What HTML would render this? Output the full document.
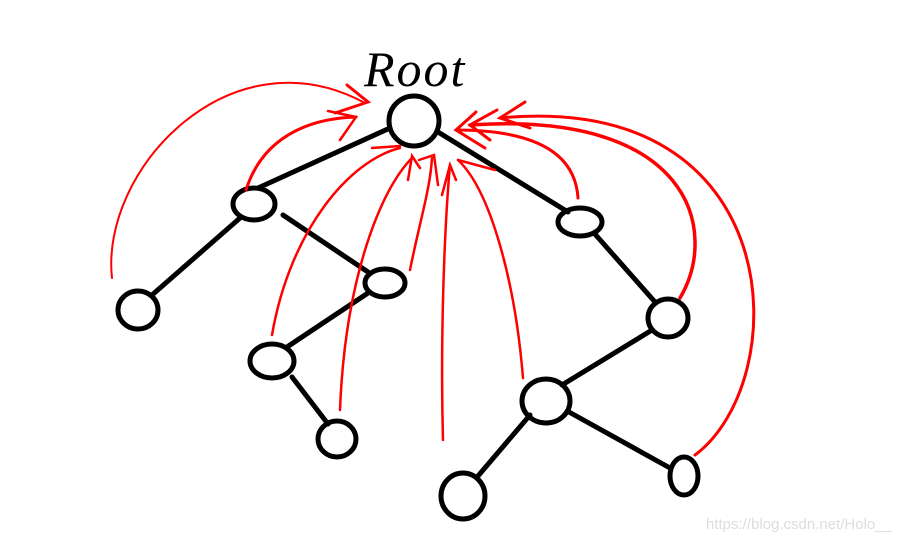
<!DOCTYPE html>
<html><head><meta charset="utf-8"><style>
html,body{margin:0;padding:0;background:#fff;width:912px;height:540px;overflow:hidden}
svg{display:block}
</style></head><body>
<svg width="912" height="540" viewBox="0 0 912 540" xmlns="http://www.w3.org/2000/svg">
<rect width="912" height="540" fill="#fff"/>
<text x="364" y="86" font-family="Liberation Serif, serif" font-style="italic" font-size="50" fill="#000" letter-spacing="2">Root</text>
<g stroke="#000" stroke-width="5" fill="none" stroke-linecap="round">
<line x1="390" y1="128" x2="258" y2="188"/>
<line x1="438" y1="132" x2="568" y2="212"/>
<line x1="240" y1="218" x2="152" y2="295"/>
<line x1="283" y1="215" x2="368" y2="272"/>
<line x1="368" y1="293" x2="287" y2="347"/>
<line x1="292" y1="377" x2="328" y2="424"/>
<line x1="594" y1="233" x2="655" y2="302"/>
<line x1="652" y1="330" x2="562" y2="385"/>
<line x1="530" y1="415" x2="478" y2="476"/>
<line x1="569" y1="412" x2="670" y2="468"/>
<circle cx="414" cy="121" r="25"/>
<ellipse cx="254" cy="204" rx="21" ry="16"/>
<ellipse cx="138" cy="310" rx="20" ry="19"/>
<ellipse cx="385" cy="283" rx="20" ry="14"/>
<ellipse cx="272" cy="361" rx="22" ry="17"/>
<ellipse cx="337" cy="439" rx="19" ry="18"/>
<ellipse cx="580" cy="222" rx="22" ry="14"/>
<ellipse cx="668" cy="318" rx="20" ry="19"/>
<ellipse cx="546" cy="401" rx="24" ry="22"/>
<ellipse cx="463" cy="496" rx="22" ry="23"/>
<ellipse cx="684" cy="476" rx="14" ry="19"/>
</g>
<g stroke="#f00" fill="none" stroke-linecap="round">
<path d="M112,278 C100,170 230,30 365,103" stroke-width="2"/>
<path d="M347,85 L368,102 L335,113" stroke-width="3"/>
<path d="M246,190 C265,130 320,118 356,117" stroke-width="3"/>
<path d="M328,111 L356,117 L340,140" stroke-width="2.5"/>
<path d="M272,335 C290,230 350,160 400,148" stroke-width="2.5"/>
<path d="M372,148 L400,146" stroke-width="2.5"/>
<path d="M340,410 C345,280 380,190 412,158" stroke-width="2.5"/>
<path d="M408,180 L412,156 L420,168" stroke-width="2.5"/>
<path d="M410,270 C420,220 430,190 432,158" stroke-width="2.5"/>
<path d="M419,160 L434,155 L438,185" stroke-width="2.5"/>
<path d="M443,440 C440,330 445,220 450,165" stroke-width="2.5"/>
<path d="M442,195 L450,165 L456,180" stroke-width="2.5"/>
<path d="M523,378 C515,280 490,190 458,160" stroke-width="2.5"/>
<path d="M458,160 L495,170" stroke-width="2.5"/>
<path d="M578,198 C575,150 530,130 456,130" stroke-width="3"/>
<path d="M476,112 L456,130 L485,148" stroke-width="3"/>
<path d="M680,298 C720,230 690,110 470,125" stroke-width="3.5"/>
<path d="M497,110 L470,125 L490,140" stroke-width="3"/>
<path d="M695,455 C795,380 790,90 500,118" stroke-width="3"/>
<path d="M525,102 L500,118 L530,128" stroke-width="3"/>
</g>
<text x="706" y="529" font-family="Liberation Sans, sans-serif" font-size="15" fill="#ddd">https://blog.csdn.net/Holo__</text>
</svg>
</body></html>
